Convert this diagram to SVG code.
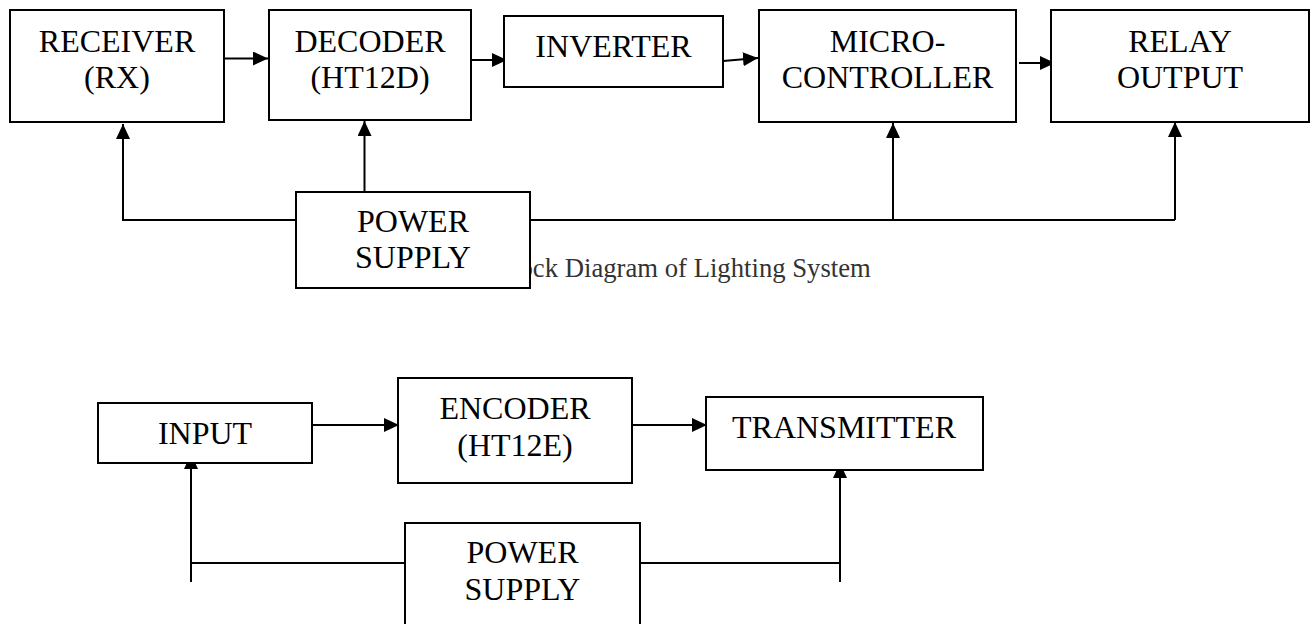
<svg xmlns="http://www.w3.org/2000/svg" width="1314" height="624" viewBox="0 0 1314 624">
<style>
.box{fill:#fff;stroke:#000;stroke-width:2}
.lbl{font-family:"Liberation Serif","Times New Roman",serif;font-size:32px;fill:#000;text-anchor:middle}
.cap{font-family:"Liberation Serif","Times New Roman",serif;font-size:26.7px;fill:#333}
.wire{fill:none;stroke:#000;stroke-width:2}
.arr{fill:none;stroke:#000;stroke-width:2;marker-end:url(#ah)}
</style>
<defs>
<marker id="ah" markerUnits="userSpaceOnUse" markerWidth="15" markerHeight="14" refX="15" refY="7" orient="auto">
<path d="M0,0 L15,7 L0,14 Z" fill="#000"/>
</marker>
</defs>
<rect width="1314" height="624" fill="#fff"/>
<text class="cap" x="519.5" y="277">ock Diagram of Lighting System</text>
<g id="connectors">
<line class="arr" x1="224" y1="58.5" x2="268" y2="58.5"/>
<line class="arr" x1="471" y1="60" x2="507" y2="60"/>
<line class="arr" x1="723" y1="61" x2="758" y2="58"/>
<line class="arr" x1="1019" y1="63" x2="1055" y2="63"/>
<polyline class="wire" points="296,220 123,220 123,140"/>
<line class="arr" x1="123" y1="140" x2="123" y2="124"/>
<line class="arr" x1="364.5" y1="192" x2="364.5" y2="121"/>
<line class="wire" x1="530" y1="220" x2="1175" y2="220"/>
<line class="arr" x1="893" y1="220" x2="893" y2="123"/>
<line class="arr" x1="1175" y1="220" x2="1175" y2="122"/>
<line class="arr" x1="312" y1="425" x2="399" y2="425"/>
<line class="arr" x1="632" y1="425" x2="707" y2="425"/>
<line class="arr" x1="191" y1="582" x2="191" y2="454"/>
<line class="wire" x1="191" y1="563" x2="405" y2="563"/>
<line class="wire" x1="640" y1="563" x2="840" y2="563"/>
<line class="arr" x1="840" y1="582" x2="840" y2="463"/>
</g>
<g id="receiver">
<rect class="box" x="10" y="10" width="214" height="112"/>
<text class="lbl" x="117" y="51.5">RECEIVER</text>
<text class="lbl" x="117" y="87.5">(RX)</text>
</g>
<g id="decoder">
<rect class="box" x="269" y="10" width="202" height="110"/>
<text class="lbl" x="370" y="51.5">DECODER</text>
<text class="lbl" x="370" y="87.5">(HT12D)</text>
</g>
<g id="inverter">
<rect class="box" x="504" y="16" width="219" height="71"/>
<text class="lbl" x="613.5" y="57">INVERTER</text>
</g>
<g id="microcontroller">
<rect class="box" x="759" y="10" width="257" height="112"/>
<text class="lbl" x="887.5" y="51.5">MICRO-</text>
<text class="lbl" x="887.5" y="87.5">CONTROLLER</text>
</g>
<g id="relay">
<rect class="box" x="1051" y="10" width="258" height="112"/>
<text class="lbl" x="1180" y="51.5">RELAY</text>
<text class="lbl" x="1180" y="87.5">OUTPUT</text>
</g>
<g id="power1">
<rect class="box" x="296" y="192" width="234" height="96"/>
<text class="lbl" x="413" y="232">POWER</text>
<text class="lbl" x="413" y="268">SUPPLY</text>
</g>
<g id="input">
<rect class="box" x="98" y="403" width="214" height="60"/>
<text class="lbl" x="205" y="444">INPUT</text>
</g>
<g id="encoder">
<rect class="box" x="398" y="378" width="234" height="105"/>
<text class="lbl" x="515" y="419">ENCODER</text>
<text class="lbl" x="515" y="456">(HT12E)</text>
</g>
<g id="transmitter">
<rect class="box" x="706" y="397" width="277" height="73"/>
<text class="lbl" x="844" y="438">TRANSMITTER</text>
</g>
<g id="power2">
<rect class="box" x="405" y="523" width="235" height="120"/>
<text class="lbl" x="522.5" y="563">POWER</text>
<text class="lbl" x="522.5" y="600">SUPPLY</text>
</g>
</svg>
